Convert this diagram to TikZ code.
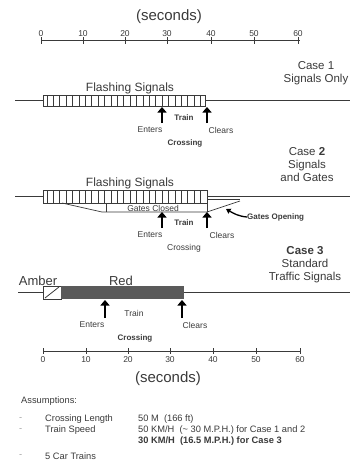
\documentclass[tikz,border=0pt]{standalone}
\usepackage{fontspec}
\setmainfont{Liberation Sans}
\usetikzlibrary{arrows.meta}
\definecolor{ink}{HTML}{3A3A3A}
\definecolor{barfill}{HTML}{5A5A5A}
\definecolor{faint}{HTML}{A0A0A0}
\tikzset{
  lbl/.style={font=\fontsize{8.5}{9}\selectfont, text=ink, inner sep=0pt},
  blbl/.style={font=\bfseries\fontsize{8}{9}\selectfont, text=ink, inner sep=0pt},
  casel/.style={font=\fontsize{11.5}{13}\selectfont, text=ink, inner sep=0pt, align=center},
  sigl/.style={font=\fontsize{12}{13}\selectfont, text=ink, inner sep=0pt},
  secl/.style={font=\fontsize{15}{16}\selectfont, text=ink, inner sep=0pt},
  tickl/.style={font=\fontsize{8.5}{9}\selectfont, text=ink, inner sep=0pt},
  asl/.style={font=\fontsize{9.3}{10}\selectfont, text=ink, inner sep=0pt, anchor=west},
  dashl/.style={font=\fontsize{9.3}{10}\selectfont, text=faint, inner sep=0pt, anchor=west},
  track/.style={draw=ink, line width=0.7pt},
  upar/.style={draw=black, line width=2.2pt, -{Triangle[width=9pt,length=5.5pt]}},
  hatch/.style={draw=ink, line width=0.9pt},
}
\begin{document}
\begin{tikzpicture}[x=1pt,y=-1pt]
\useasboundingbox (0,0) rectangle (350,467);
% ---------- top axis ----------
\node[secl] (sec1) at (169,17) {(seconds)};
\draw[track] (41,40) coordinate (ax1s) -- (300,40) coordinate (ax1e);
\foreach \t/\x in {0/41,10/83,20/125,30/167,40/211,50/254,60/298}{
  \node[tickl] (tt\t) at (\x,34) {\t};
  \draw[track] (\x,37) -- (\x,44);
}
% ---------- Case 1 ----------
\node[casel] (c1) at (316,73) {Case 1\\Signals Only};
\node[sigl] (fs1) at (130,88) {Flashing Signals};
\draw[track] (15,100) -- (350,100);
\draw[hatch,fill=white] (43,95) rectangle (205,106);
\foreach \i in {0,...,24}{ \draw[hatch] ({47+\i*6.4},95) -- ({47+\i*6.4},106); }
\coordinate (e1b) at (162,123); \coordinate (e1t) at (162,107);
\coordinate (k1b) at (207,123); \coordinate (k1t) at (207,107);
\draw[upar] (e1b) -- (e1t);
\draw[upar] (k1b) -- (k1t);
\node[blbl] (tr1) at (184,118) {Train};
\node[lbl] (en1) at (150,130) {Enters};
\node[lbl] (cl1) at (221,130) {Clears};
\node[blbl] (cr1) at (185,143) {Crossing};
% ---------- Case 2 ----------
\node[casel] (c2) at (307,165) {Case \textbf{2}\\Signals\\and Gates};
\node[sigl] (fs2) at (130,183) {Flashing Signals};
\draw[track] (15,196) -- (350,196);
\draw[track] (207,199.5) -- (240,199.5);
\draw[hatch,fill=white] (43,190) rectangle (207,203);
\foreach \i in {0,...,25}{ \draw[hatch] ({47+\i*6.4},190) -- ({47+\i*6.4},203); }
% gate lines
\draw[track] (62,203) -- (102,212) -- (207,212);
\draw[track] (106,204) -- (106,212);
\draw[track] (207,203) -- (207,212);
\draw[track] (207,212) -- (240,201);
\node[lbl,font=\fontsize{8.5}{9}\selectfont] (gc) at (153,208) {Gates Closed};
\node[blbl,anchor=west] (go) at (247,217) {Gates Opening};
\coordinate (gotip) at (226,209);
\draw[draw=black,line width=1.3pt,-{Triangle[width=5.5pt,length=4.5pt]}] (go.west) to[out=175,in=-30] (gotip);
\coordinate (e2b) at (162,228); \coordinate (e2t) at (162,212);
\coordinate (k2b) at (207,228); \coordinate (k2t) at (207,212);
\draw[upar] (e2b) -- (e2t);
\draw[upar] (k2b) -- (k2t);
\node[blbl] (tr2) at (184,223) {Train};
\node[lbl] (en2) at (150,235) {Enters};
\node[lbl] (cl2) at (222,235) {Clears};
\node[lbl] (cr2) at (184,248) {Crossing};
% ---------- Case 3 ----------
\node[casel] (c3) at (305,265) {\textbf{Case 3}\\Standard\\Traffic Signals};
\node[sigl,font=\fontsize{13}{14}\selectfont] (am) at (38,281) {Amber};
\node[sigl,font=\fontsize{13}{14}\selectfont] (rd) at (121,281) {Red};
\draw[track] (18,292.5) -- (350,292.5);
\draw[draw=ink,line width=1.6pt] (222,292.5) -- (240,292.5);
\draw[draw=ink,line width=1.6pt] (315,292.5) -- (350,292.5);
\draw[draw=ink,line width=0.8pt,fill=white] (43,286) rectangle (61,299);
\draw[draw=ink,line width=0.8pt] (45,298) -- (59,287);
\fill[barfill] (61,286) rectangle (184,299);
\coordinate (e3b) at (105,318); \coordinate (e3t) at (105,300);
\coordinate (k3b) at (182,318); \coordinate (k3t) at (182,300);
\draw[upar] (e3b) -- (e3t);
\draw[upar] (k3b) -- (k3t);
\node[lbl] (tr3) at (134,313) {Train};
\node[lbl] (en3) at (92,325) {Enters};
\node[lbl] (cl3) at (195,325) {Clears};
\node[blbl] (cr3) at (135,338) {Crossing};
% ---------- bottom axis ----------
\draw[track] (43,351) -- (300,351);
\foreach \t/\x in {0/43,10/86,20/128,30/170,40/213,50/256,60/300}{
  \draw[track] (\x,348) -- (\x,354);
  \node[tickl] (bt\t) at (\x,360) {\t};
}
\node[secl] (sec2) at (168,379) {(seconds)};
% ---------- assumptions ----------
\node[asl] (as) at (21,401) {Assumptions:};
\node[dashl] (d1) at (19,419) {-};
\node[asl] (a1) at (45,419) {Crossing Length};
\node[asl] (v1) at (138,419) {50 M\ \ (166 ft)};
\node[dashl] (d2) at (19,430) {-};
\node[asl] (a2) at (45,430) {Train Speed};
\node[asl] (v2) at (138,430) {50 KM/H\ \ (\textasciitilde\ 30 M.P.H.) for Case 1 and 2};
\node[asl,font=\bfseries\fontsize{9.3}{10}\selectfont] (v3) at (138,441) {30 KM/H\ \ (16.5 M.P.H.) for Case 3};
\node[dashl] (d3) at (19,456) {-};
\node[asl] (a3) at (45,456) {5 Car Trains};
\end{tikzpicture}
\end{document}
